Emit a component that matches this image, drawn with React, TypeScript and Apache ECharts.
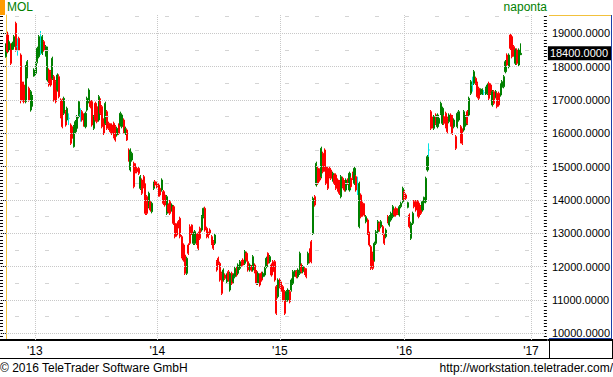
import React, { useEffect, useRef } from "react";
import * as echarts from "echarts";

// [open, close, low, high]
const bars2012 = [
  [18300,18650,18270,18700],[18950,18450,18400,19050],[18500,18750,18450,18800],[18650,18100,18050,18700],
  [18520,18700,18500,18750],[18600,18900,18550,18950],[19300,18500,18450,19350],[18600,18600,18330,18850],
  [18850,18500,18470,18900],[18350,17000,16900,18400],[17500,17000,16950,17550],[17450,16950,16900,17550],
  [16950,18000,16900,18050],[17700,18150,17650,18200],[17350,17000,16950,17400],[16700,17250,16650,17300],
  [16850,17100,16800,17150],[17720,17900,17700,17950],
];
const bars2013 = [
  [17800,18100,17750,18150],[18150,18550,18100,18600],[18300,18900,18250,18950],[18700,18700,18350,19070],
  [18400,18900,18350,18950],[18750,18500,18450,18800],[18350,18600,18300,18650],[17600,18550,17550,18600],
  [17900,17450,17400,17950],[17850,17450,17400,17900],[17650,18250,17600,18300],[17700,17000,16950,17750],
  [17550,16950,16900,17600],[17300,17750,17250,17800],[17700,17100,17050,17770],[17000,16500,16450,17050],
  [17000,16200,16150,17050],[16600,17050,16550,17100],[16650,16250,16200,16700],[16400,16750,16350,16800],
  [16450,16450,16250,16600],[16250,15700,15650,16300],[16200,15850,15800,16250],[15600,16200,15570,16250],
  [16050,16350,16000,16400],[16150,16500,16100,16550],[16500,16950,16450,17000],[16550,16550,16350,16750],
  [16650,16400,16350,16700],[16550,16250,16200,16600],[16200,16600,16150,16650],[16700,17050,16650,17100],
  [16950,17300,16900,17350],[16950,16800,16750,17000],[16950,16250,16200,17000],[16150,16500,16100,16550],
  [16900,16400,16350,16950],[16800,16350,16300,16850],[16400,17100,16350,17150],[17000,16600,16550,17050],
  [16800,16200,16150,16850],[16400,16000,15950,16450],[16300,16900,16250,16950],[16650,16150,16100,16700],
  [16300,16150,16100,16350],[16250,16050,16000,16300],[16250,16000,15950,16300],[16300,15900,15850,16350],
  [16200,15800,15750,16250],[15950,16150,15900,16200],[16250,16000,15950,16300],[16250,16600,16200,16650],
  [16200,16550,16150,16600],[16400,16050,16000,16450],[16000,16150,15950,16200],[16100,15800,15770,16150],
  [15500,15200,15150,15550],[14900,15500,14850,15550],[15200,15400,15150,15450],[15100,14400,14350,15150],
  [15050,14850,14800,15100],[14950,14850,14800,15000],[14950,14800,14750,15000],[14350,14700,14300,14750],
  [14600,14200,14150,14650],[14700,14400,14350,14750],[14450,13600,13550,14500],[14100,13600,13550,14150],
  [13800,14200,13750,14250],[13950,13700,13650,14000],[13650,13900,13600,13950],[14350,14500,14300,14550],
  [14550,14450,14400,14600],[14500,14400,14350,14550],
];
const bars2014 = [
  [14450,14150,14100,14500],[14350,14150,14100,14400],[14300,14600,14250,14650],[14250,13900,13850,14300],
  [14150,13850,13800,14200],[13600,14100,13550,14150],[13850,13650,13600,13900],[13950,13600,13550,14000],
  [13700,13850,13650,13900],[13800,13300,13250,13850],[13300,12900,12850,13350],[13250,12950,12900,13300],
  [13350,13200,13150,13400],[13450,12900,12850,13500],[12900,12300,12250,12950],[12650,12200,12150,12700],
  [12350,11800,11750,12400],[11800,12250,11750,12300],[12650,12400,12350,12700],[13200,12700,12650,13270],
  [13250,13000,12950,13270],[12700,13000,12650,13050],[12700,13050,12650,13100],[12950,12700,12650,13000],
  [13000,12550,12500,13050],[13150,12850,12800,13200],[13100,13500,13050,13550],[13500,13750,13450,13770],
  [13750,13100,13050,13800],[13150,12900,12850,13200],[13000,12900,12850,13050],[13100,13000,12950,13150],
  [12900,12700,12650,12950],[12750,12550,12500,12800],[12700,12950,12650,13000],[12150,11900,11850,12200],
  [12250,12100,12050,12300],[12100,11600,11550,12150],[11800,11200,11150,11850],[11600,11900,11550,11950],
  [11750,11650,11600,11800],[11550,11750,11500,11800],[11850,11600,11550,11900],[11300,11800,11250,11850],
  [11800,11500,11450,11850],[11550,11750,11500,11800],[11700,11950,11650,12000],[11950,11750,11700,12000],
  [11800,12050,11750,12100],[11950,12150,11900,12200],[12150,12050,12000,12200],[12200,12050,12030,12250],
  [12100,12450,12050,12500],[12400,12200,12150,12450],[12150,11900,11850,12200],[11900,12050,11850,12100],
  [12000,11900,11850,12050],[11900,12300,11850,12350],[12050,11850,11800,12100],[11850,11500,11450,11900],
  [11500,11800,11450,11850],[11750,11450,11400,11800],[11800,11600,11550,11850],[11700,11800,11650,11850],
  [11750,11950,11700,12000],[12000,12250,11950,12300],[12400,12100,12050,12430],[12150,12300,12100,12350],
  [12050,11750,11700,12100],[12150,11850,11800,12200],[12150,11600,11550,12200],[11400,10600,10550,11450],
  [11100,11600,11050,11650],[11600,11400,11350,11650],
];
const bars2015 = [
  [11500,11300,11250,11550],[11400,11000,10950,11450],[11250,10600,10550,11300],[11000,11250,10950,11300],
  [11000,11300,10950,11350],[11250,10950,10900,11300],[11300,11600,11250,11650],[11500,11850,11450,11900],
  [11720,11880,11700,11900],[11850,11700,11650,11900],[11700,11900,11650,11950],[11800,12400,11750,12450],
  [12050,11850,11800,12100],[11850,12000,11800,12050],[11950,11800,11750,12000],[11900,11700,11650,11950],
  [12100,12400,12050,12450],[12500,12150,12100,12550],[12750,12150,12100,12800],[13000,14050,12950,14100],
  [14100,13850,13800,14150],[14450,15100,14400,15150],[14950,14500,14450,15000],[14900,14600,14550,14950],
  [14700,15550,14650,15600],[15400,14850,14800,15450],[15500,14900,14850,15550],[15000,14500,14450,15050],
  [14950,14350,14300,15000],[14950,14700,14650,15000],[14900,14650,14600,14950],[14600,14800,14550,14850],
  [14750,14500,14450,14800],[14750,14350,14300,14800],[14600,14300,14250,14650],[14550,14200,14150,14600],
  [14100,14700,14050,14750],[14650,14400,14350,14700],[14550,14300,14250,14600],[14300,14600,14250,14650],
  [14600,14500,14450,14650],[14300,14800,14250,14850],[14650,14400,14350,14700],[14800,14650,14600,14850],
  [14500,14950,14450,15000],[14700,14300,14250,14750],[14400,14400,14150,14700],[13200,14500,13150,14550],
  [14150,13500,13450,14200],[13900,13550,13500,13950],[13850,13550,13500,13900],[13350,13500,13300,13550],
  [13400,13000,12950,13450],[13000,12650,12600,13050],[12600,11950,11900,12650],[12400,11950,11900,12450],
  [12200,12700,12150,12750],[12700,13050,12650,13100],[13050,13350,13000,13400],[13300,13100,13050,13350],
  [13200,13350,13150,13400],[13200,13000,12950,13250],[12950,12700,12650,13000],[12900,13100,12850,13150],
  [13500,13350,13300,13550],[13250,13500,13200,13550],[13400,13600,13350,13650],[13500,13800,13450,13850],
  [13700,13550,13500,13750],[13750,13550,13500,13800],[13700,13600,13550,13750],[13550,13800,13500,13850],
  [13800,13900,13750,13950],[13950,14350,13900,14400],[14250,14000,13950,14300],
];
const bars2016 = [
  [14150,14050,14000,14200],[13780,13920,13750,13950],[13550,13200,13150,13600],[12850,13300,12800,13350],
  [13300,13600,13250,13650],[13950,13800,13750,14000],[13950,13700,13650,14000],[13950,13550,13500,14000],
  [13900,13500,13450,13950],[13800,13600,13550,13850],[13700,13950,13650,14000],[13920,14080,13900,14100],
  [13950,14650,13900,14700],[14900,15300,14850,15350],[15500,15500,15300,15700],[16650,16150,16100,16700],
  [16450,16200,16150,16500],[16150,16500,16100,16550],[16550,16300,16250,16600],[16200,16550,16150,16600],
  [16300,16450,16250,16500],[16600,16900,16550,16950],[16300,16750,16250,16800],[16500,16300,16250,16550],
  [16600,16200,16150,16650],[16450,16050,16000,16500],[16350,16550,16300,16600],[16550,16250,16200,16600],
  [16500,16000,15950,16550],[16200,16400,16150,16450],[15900,15550,15500,15950],[16200,16600,16150,16650],
  [16400,16650,16350,16700],[16200,15750,15700,16250],[16100,15700,15650,16150],[16100,16650,16050,16700],
  [16250,16500,16200,16550],[16650,16300,16250,16700],[16550,17050,16500,17100],[17200,17550,17150,17600],
  [17450,17450,17250,17700],[17500,17850,17450,17900],[17650,17500,17450,17700],[17500,17100,17050,17550],
  [17350,17050,17000,17400],[17180,17320,17150,17350],[17180,17320,17150,17350],[17220,17220,17150,17300],
  [17180,17350,17150,17400],[17200,17450,17150,17500],[17500,17050,17000,17550],[17450,17200,17150,17500],
  [16850,17250,16800,17300],[17250,16900,16850,17300],[17080,17250,17050,17300],[17200,16800,16750,17250],
  [17200,16850,16800,17250],[17150,17450,17100,17500],[17380,17550,17350,17600],[17400,17700,17350,17750],
  [17850,18150,17800,18200],[18350,18050,18000,18400],[18000,18350,17950,18400],[18950,18550,18500,19000],
  [18900,18300,18250,18950],[18600,18350,18300,18650],[18100,18500,18050,18550],[18500,18100,18050,18550],
  [18050,18500,18000,18550],[18360,18400,18350,18700],
];

const lastPrice = 18400;
const yearPos = [17.5, 91.3, 165.1, 240.1, 316.3];
const yearLabels = ["'13", "'14", "'15", "'16", "'17"];
const priceLabels = [10000, 11000, 12000, 13000, 14000, 15000, 16000, 17000, 18000, 19000];
const halfLines = [10500, 11500, 12500, 13500, 14500, 15500, 16500, 17500, 18500, 19500];

const FF = '"Liberation Sans", Arial, sans-serif';
const Y_MIN = 9800;
const Y_MAX = 19550;

export default function App() {
  const ref = useRef<HTMLDivElement>(null);
  useEffect(() => {
    const chart = echarts.init(ref.current!, null, { renderer: "svg" });
    const allBars = [...bars2012, ...bars2013, ...bars2014, ...bars2015, ...bars2016];
    const seriesData = allBars.map((b, i) => [i, b[0], b[1], b[2], b[3]]);
    const minorTicks: number[] = [];
    for (let v = 9800; v <= 19500; v += 100) minorTicks.push(v);

    const baseY = { type: "value", min: Y_MIN, max: Y_MAX, splitLine: { show: false } } as any;

    const option: any = {
      animation: false,
      backgroundColor: "#fff",
      grid: { left: 0, right: 64, top: 15, bottom: 37 },
      xAxis: {
        type: "value",
        min: -3.5,
        max: 325.9,
        splitLine: { show: false },
        axisLine: { show: true, lineStyle: { color: "#000", width: 2 } },
        axisTick: { show: false },
        axisLabel: {
          show: true,
          customValues: yearPos,
          margin: 5,
          color: "#000",
          fontSize: 12,
          fontFamily: FF,
          formatter: (v: number) => {
            let best = 0;
            yearPos.forEach((p, i) => { if (Math.abs(p - v) < Math.abs(yearPos[best] - v)) best = i; });
            return yearLabels[best];
          },
        },
      },
      yAxis: [
        {
          ...baseY,
          position: "right",
          axisLine: { show: true, lineStyle: { color: "#f2c13c", width: 1 } },
          axisTick: { show: true, inside: true, length: 5, customValues: priceLabels, lineStyle: { color: "#000" } },
          axisLabel: {
            show: true,
            customValues: priceLabels,
            margin: 5,
            color: "#000",
            fontSize: 11,
            fontFamily: FF,
            formatter: (v: number) => v.toFixed(4),
          },
        },
        {
          ...baseY,
          position: "right",
          axisLine: { show: false },
          axisTick: { show: true, inside: true, length: 3, customValues: minorTicks, lineStyle: { color: "#000" } },
          axisLabel: { show: false },
        },
        {
          ...baseY,
          position: "left",
          axisLine: { show: false },
          axisTick: { show: true, inside: true, length: 3, customValues: minorTicks, lineStyle: { color: "#000" } },
          axisLabel: { show: false },
        },
        {
          ...baseY,
          position: "left",
          axisLine: { show: false },
          axisTick: { show: true, inside: true, length: 5, customValues: priceLabels, lineStyle: { color: "#000" } },
          axisLabel: { show: false },
        },
      ],
      series: [
        {
          type: "line",
          data: [],
          z: 1,
          silent: true,
          markLine: {
            silent: true,
            symbol: ["none", "none"],
            label: { show: false },
            animation: false,
            data: [
              ...priceLabels.map((v) => ({ yAxis: v, lineStyle: { type: [1, 1], color: "#c8c8c8", width: 1 } })),
              ...halfLines.map((v) => ({ yAxis: v, lineStyle: { type: [4, 26], dashOffset: 15, color: "#d4d4d4", width: 1 } })),
              ...yearPos.map((v) => ({ xAxis: v, lineStyle: { type: [1, 1], color: "#c8c8c8", width: 1 } })),
            ],
          },
        },
        {
          type: "candlestick",
          z: 3,
          data: seriesData,
          barWidth: 1.6,
          itemStyle: {
            color: "#008000",
            color0: "#ff0000",
            borderColor: "#008000",
            borderColor0: "#ff0000",
            borderColorDoji: "#00e5e5",
            borderWidth: 1,
          },
        },
        {
          type: "line",
          data: [],
          z: 5,
          silent: true,
          clip: false,
          markLine: {
            silent: true,
            symbol: ["none", "none"],
            animation: false,
            lineStyle: { width: 0, color: "rgba(0,0,0,0)" },
            label: {
              show: true,
              position: "end",
              distance: 1,
              formatter: () => lastPrice.toFixed(4),
              color: "#fff",
              backgroundColor: "#000",
              fontSize: 11,
              fontFamily: FF,
              padding: [2, 3, 1, 2],
            },
            data: [{ yAxis: lastPrice }],
          },
        },
      ],
      graphic: [
        { type: "rect", left: 0, top: 0, shape: { x: 0, y: 0, width: 5, height: 15 }, style: { fill: "#ff9c00" } },
        { type: "text", x: 7, y: 1, style: { text: "MOL", fill: "#008000", font: `12px ${FF}` } },
        { type: "text", x: 547, y: 1, style: { text: "naponta", fill: "#008000", font: `12px ${FF}`, align: "right" } },
        { type: "line", shape: { x1: 549, y1: 15.5, x2: 611, y2: 15.5 }, style: { stroke: "#f2c13c", lineWidth: 1 } },
        { type: "line", shape: { x1: 611.5, y1: 15, x2: 611.5, y2: 339 }, style: { stroke: "#1c3fa8", lineWidth: 1 } },
        { type: "line", shape: { x1: 549, y1: 338.5, x2: 612, y2: 338.5 }, style: { stroke: "#1c3fa8", lineWidth: 1 } },
        { type: "line", shape: { x1: 548, y1: 340, x2: 613, y2: 340 }, style: { stroke: "#000", lineWidth: 2 } },
        { type: "line", shape: { x1: 549.5, y1: 340, x2: 549.5, y2: 359 }, style: { stroke: "#000", lineWidth: 1 } },
        { type: "line", shape: { x1: 612.5, y1: 340, x2: 612.5, y2: 359 }, style: { stroke: "#000", lineWidth: 1 } },
        { type: "line", shape: { x1: 0, y1: 358.5, x2: 613, y2: 358.5 }, style: { stroke: "#000", lineWidth: 1 } },
        { type: "text", x: 0, y: 362, style: { text: "\u00A9 2016 TeleTrader Software GmbH", fill: "#000", font: `12px ${FF}` } },
        { type: "text", x: 613, y: 362, style: { text: "http://workstation.teletrader.com/", fill: "#000", font: `12px ${FF}`, align: "right" } },
      ],
    };
    chart.setOption(option);
    return () => chart.dispose();
  }, []);
  return (
    <div
      ref={ref}
      style={{ position: "absolute", left: 0, top: 0, width: 613, height: 377, background: "#fff" }}
    />
  );
}
